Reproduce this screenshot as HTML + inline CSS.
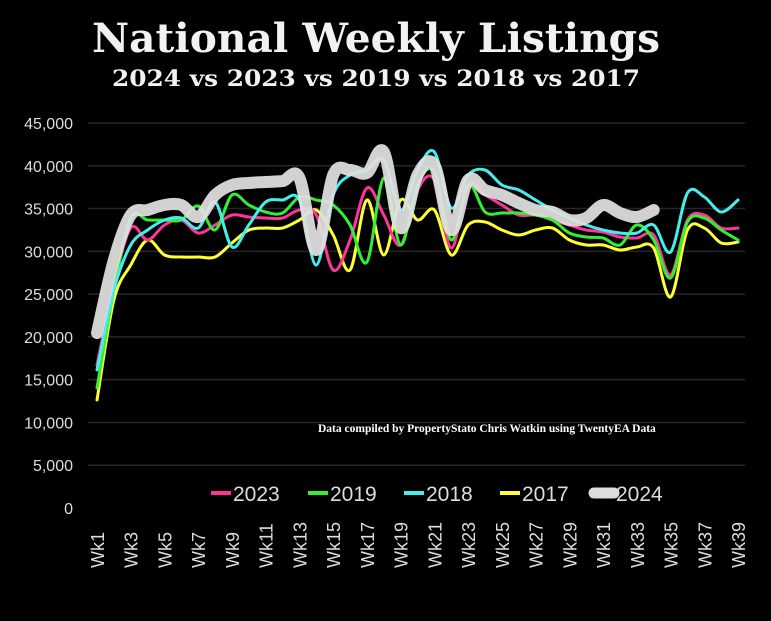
<!DOCTYPE html>
<html><head><meta charset="utf-8"><style>
html,body{margin:0;padding:0;background:#000;}
body{width:771px;height:621px;overflow:hidden;}
</style></head><body>
<svg id="s" width="771" height="621" viewBox="0 0 771 621" xmlns="http://www.w3.org/2000/svg" style="display:block;background:#000">
<text x="92" y="52" textLength="568" lengthAdjust="spacingAndGlyphs" fill="#f2f2f2" font-family="DejaVu Serif, serif" font-weight="bold" font-size="40">National Weekly Listings</text>
<text x="112" y="86" textLength="528" lengthAdjust="spacingAndGlyphs" fill="#f2f2f2" font-family="DejaVu Serif, serif" font-weight="bold" font-size="22">2024 vs 2023 vs 2019 vs 2018 vs 2017</text>
<g id="grid"></g>
<g id="lines" fill="none" stroke-linecap="round" stroke-linejoin="round"></g>
<text x="318" y="432" fill="#fff" font-family="Liberation Serif, serif" font-weight="bold" font-size="11.5">Data compiled by PropertyStato Chris Watkin using TwentyEA Data</text>
<g font-family="Liberation Sans, sans-serif" font-size="21" fill="#ddd">
<line x1="211" y1="493" x2="231" y2="493" stroke="#ff3399" stroke-width="4"/><text x="233" y="501">2023</text>
<line x1="308" y1="493" x2="328" y2="493" stroke="#33ee33" stroke-width="4"/><text x="330" y="501">2019</text>
<line x1="404" y1="493" x2="424" y2="493" stroke="#44eeee" stroke-width="4"/><text x="426" y="501">2018</text>
<line x1="500" y1="493" x2="520" y2="493" stroke="#ffff33" stroke-width="4"/><text x="522" y="501">2017</text>
<line x1="594" y1="493" x2="614" y2="493" stroke="#dddddd" stroke-width="11" stroke-linecap="round"/><text x="616" y="501">2024</text>
</g>
</svg>
<script>
var ns="http://www.w3.org/2000/svg",g=document.getElementById('grid'),L=document.getElementById('lines');
function el(t,a,p,txt){var e=document.createElementNS(ns,t);for(var k in a)e.setAttribute(k,a[k]);if(txt)e.textContent=txt;p.appendChild(e);return e;}
for(var i=0;i<=9;i++){var y=508-i*5000*0.008556;
 if(i>0)el('line',{x1:88,x2:745,y1:y,y2:y,stroke:'#262626','stroke-width':1.5},g);
 el('text',{x:73,y:y+6,'text-anchor':'end',fill:'#ddd','font-family':'Liberation Sans, sans-serif','font-size':16},g,(i*5000).toLocaleString('en-US'));}
function X(w){return 97+(w-1)*16.87;}
for(var w=1;w<=39;w+=2){var x=X(w);el('text',{x:0,y:0,transform:'translate('+(x+7)+',568) rotate(-90)',fill:'#ddd','font-family':'Liberation Sans, sans-serif','font-size':18},g,'Wk'+w);}
function path(ys){var p=ys.map(function(y,i){return [X(i+1),y];});var d='M'+p[0][0]+','+p[0][1];
 for(var i=0;i<p.length-1;i++){var p0=p[i-1]||p[i],p1=p[i],p2=p[i+1],p3=p[i+2]||p2;
 d+=' C'+(p1[0]+(p2[0]-p0[0])/6)+','+(p1[1]+(p2[1]-p0[1])/6)+' '+(p2[0]-(p3[0]-p1[0])/6)+','+(p2[1]-(p3[1]-p1[1])/6)+' '+p2[0]+','+p2[1];}return d;}
var S=[
['#ffff33',3,[400,300,265,240,255,257,257,257,243,230,228,228,220,210,235,270,200,255,200,220,210,255,225,222,230,235,230,228,240,245,245,250,247,248,297,230,228,243,242]],
['#ff3399',3,[365,285,228,240,225,220,233,225,215,217,218,218,210,215,270,240,188,215,245,190,180,248,185,195,205,215,215,220,225,230,232,237,238,235,275,220,215,228,228]],
['#33ee33',3,[388,290,218,220,220,220,206,230,195,205,212,213,197,200,205,225,262,178,245,185,172,240,185,212,213,213,215,220,233,237,238,245,225,240,278,222,218,230,240]],
['#44eeee',3,[370,290,245,230,220,218,228,202,247,225,202,200,200,265,195,175,170,160,210,170,152,208,175,170,185,190,200,210,218,225,230,233,233,225,252,193,197,212,200]],
['rgba(225,225,225,0.93)',12,[333,260,215,210,205,205,217,195,185,183,182,181,178,250,175,170,173,152,228,175,165,230,180,190,195,203,210,212,220,218,205,213,217,210]]
];
S.forEach(function(s){el('path',{d:path(s[2]),stroke:s[0],'stroke-width':s[1]},L);});
</script>
</body></html>
